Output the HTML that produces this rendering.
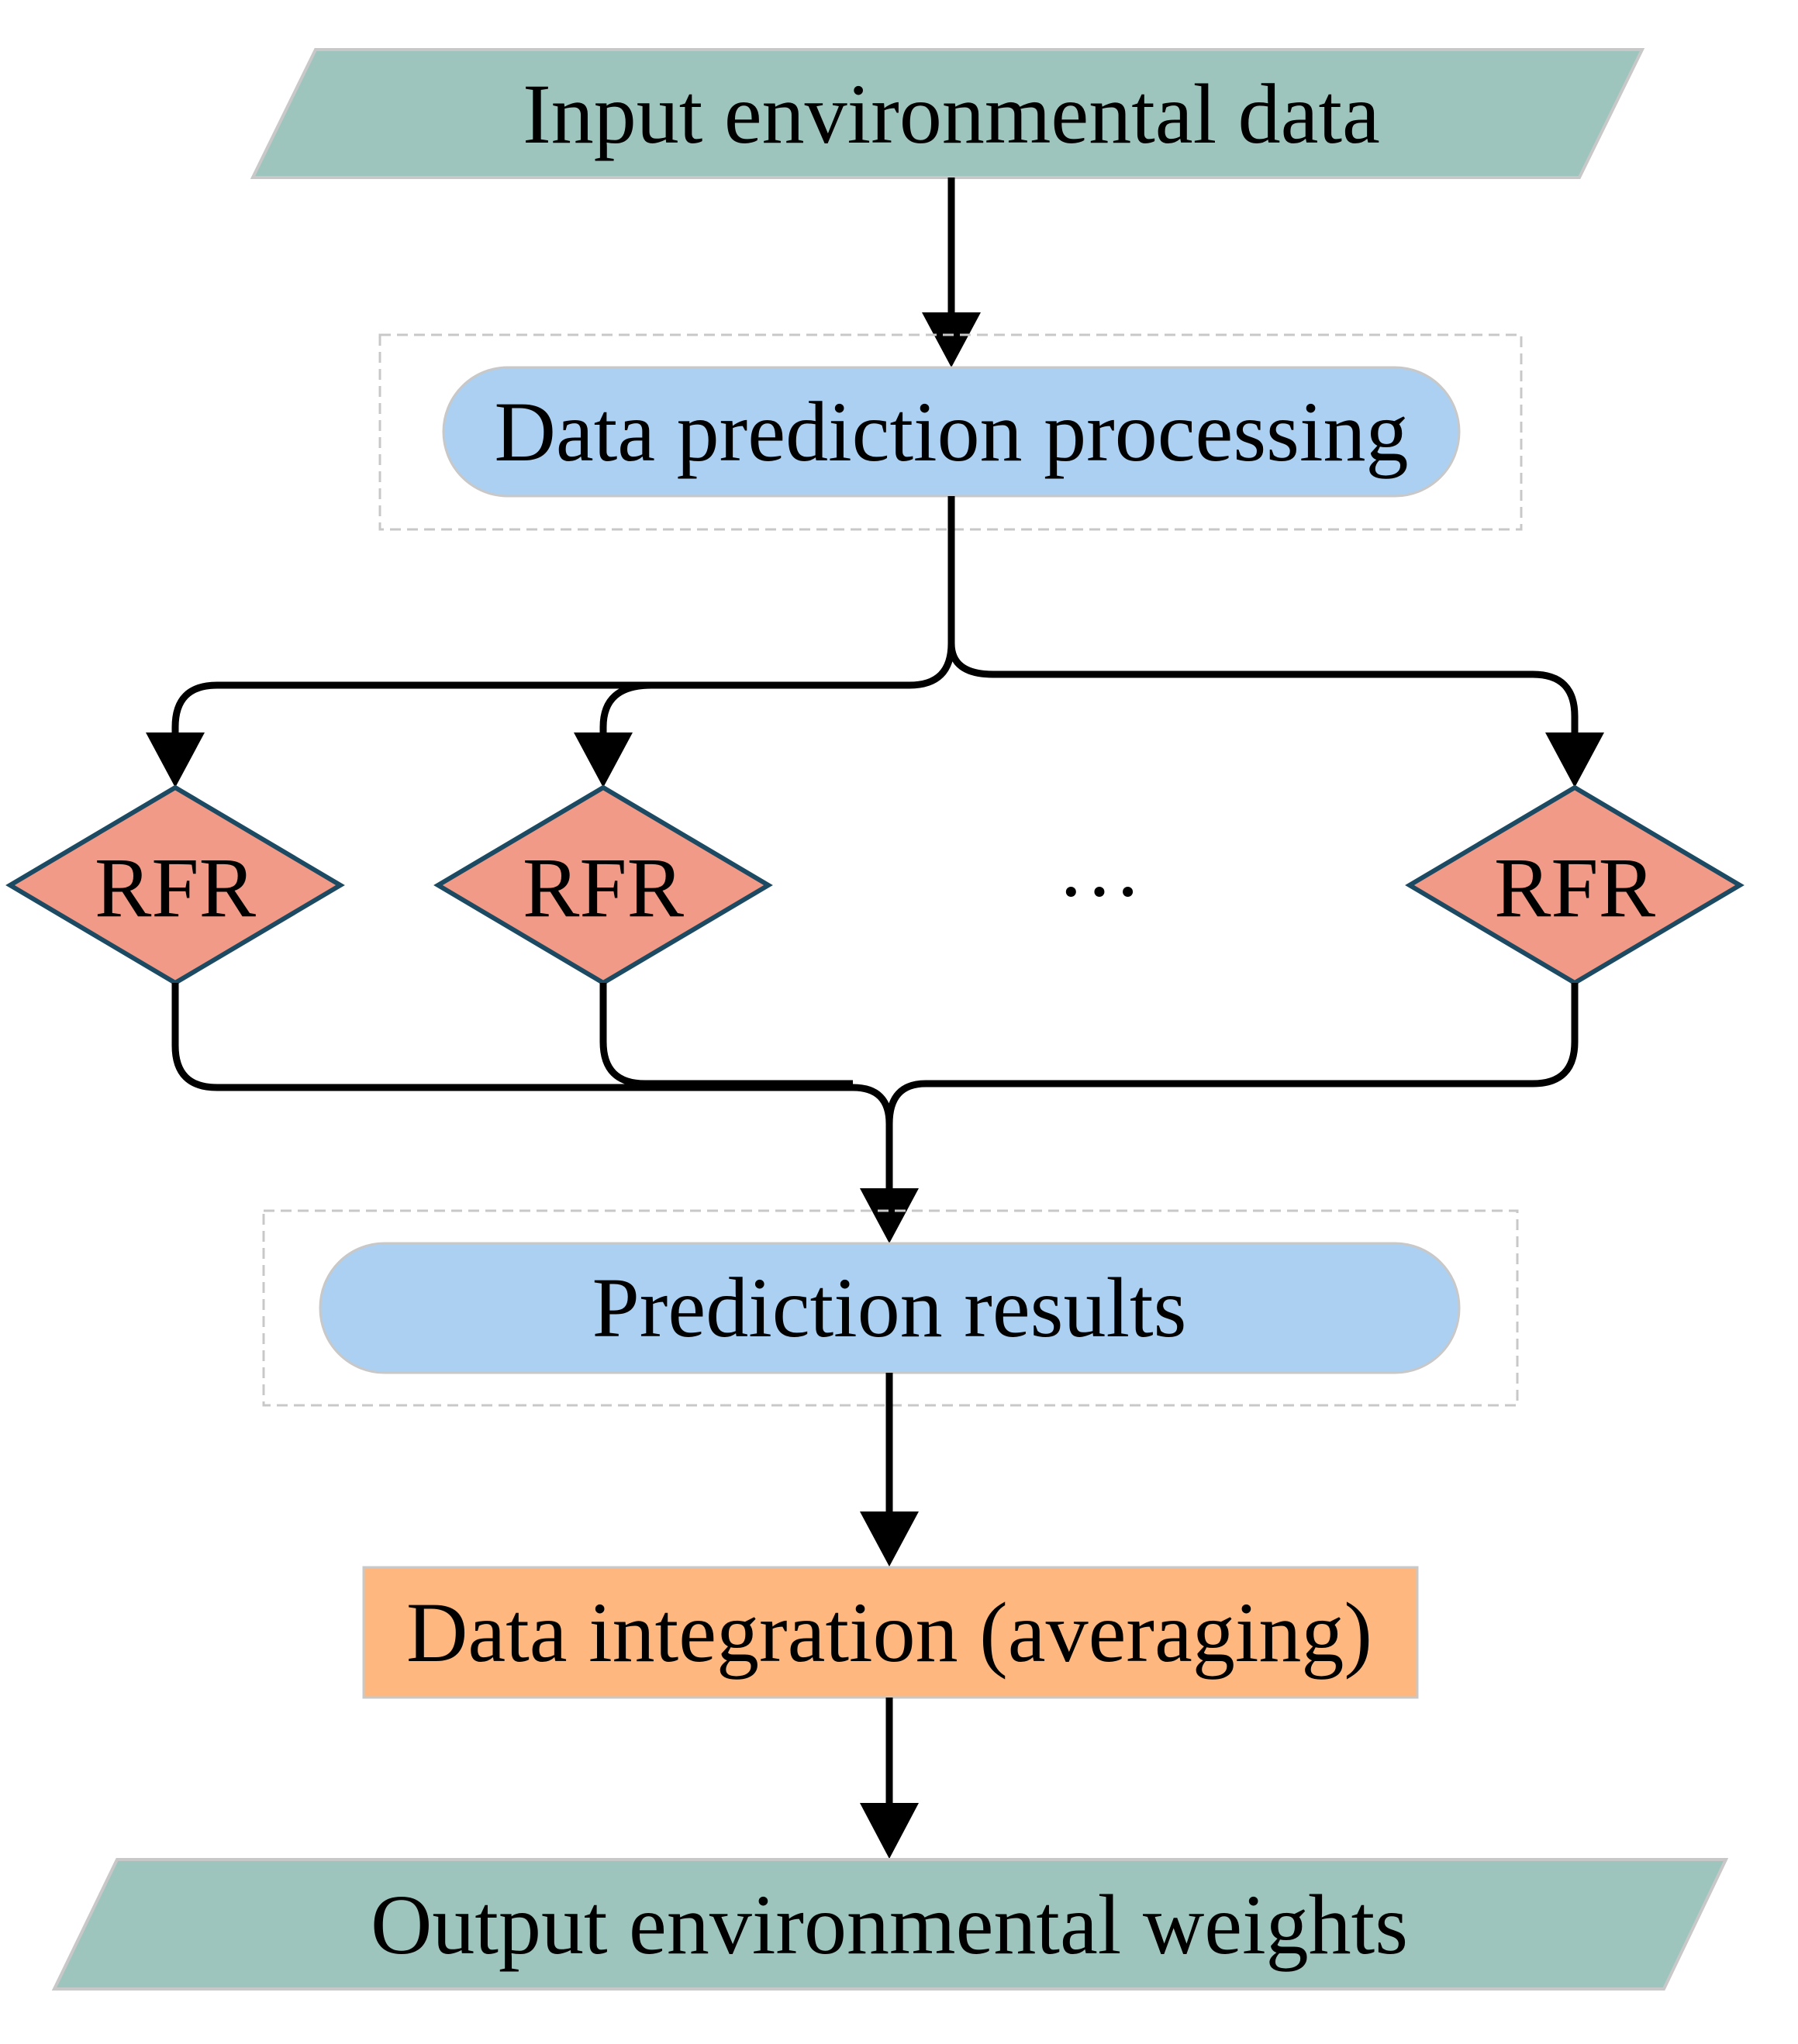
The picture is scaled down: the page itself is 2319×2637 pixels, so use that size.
<!DOCTYPE html>
<html><head><meta charset="utf-8"><style>
html,body{margin:0;padding:0;background:#fff}
svg{display:block}
text{font-family:"Liberation Serif",serif;fill:#000}
</style></head><body>
<svg width="2319" height="2637" viewBox="0 0 2319 2637" xmlns="http://www.w3.org/2000/svg">
<!-- top parallelogram -->
<polygon points="407,64 2118,64 2037,229 326,229" fill="#9ec5bd" stroke="#c8c8c8" stroke-width="4"/>
<text x="1227" y="147" font-size="110" text-anchor="middle" dominant-baseline="central">Input environmental data</text>

<!-- arrow 1 -->
<line x1="1227" y1="229" x2="1227" y2="420" stroke="#000" stroke-width="9"/>
<polygon points="1189,403 1265,403 1227,474" fill="#000"/>

<!-- dashed box 1 -->
<rect x="490" y="432" width="1472" height="251" fill="none" stroke="#c8c8c8" stroke-width="3" stroke-dasharray="14,8"/>
<rect x="572" y="474" width="1310" height="166" rx="83" fill="#acd0f1" stroke="#c8c8c8" stroke-width="3"/>
<text x="1227" y="557" font-size="110" text-anchor="middle" dominant-baseline="central">Data prediction processing</text>

<!-- branches -->
<g fill="none" stroke="#000" stroke-width="9" stroke-linejoin="round">
<path d="M1227,640 L1227,830 Q1227,884 1173,884 L280,884 Q226,884 226,938 L226,960"/>
<path d="M840,884 Q778,884 778,938 L778,960"/>
<path d="M1227,830 Q1227,870 1281,870 L1977,870 Q2031,870 2031,924 L2031,960"/>
</g>
<polygon points="188,945 264,945 226,1016" fill="#000"/>
<polygon points="740,945 816,945 778,1016" fill="#000"/>
<polygon points="1993,945 2069,945 2031,1016" fill="#000"/>

<!-- diamonds -->
<g fill="#f09a87" stroke="#1d4a63" stroke-width="6">
<polygon points="226,1016 439,1142 226,1268 13,1142"/>
<polygon points="778,1016 991,1142 778,1268 565,1142"/>
<polygon points="2031,1016 2244,1142 2031,1268 1818,1142"/>
</g>
<text x="226" y="1145" font-size="110" text-anchor="middle" dominant-baseline="central">RFR</text>
<text x="778" y="1145" font-size="110" text-anchor="middle" dominant-baseline="central">RFR</text>
<text x="2031" y="1145" font-size="110" text-anchor="middle" dominant-baseline="central">RFR</text>
<text x="1418" y="1150" font-size="110" text-anchor="middle" dominant-baseline="central">···</text>

<!-- merge -->
<g fill="none" stroke="#000" stroke-width="9" stroke-linejoin="round">
<path d="M226,1268 L226,1349 Q226,1403 280,1403 L1100,1403 Q1147,1403 1147,1450 L1147,1550"/>
<path d="M778,1268 L778,1344 Q778,1398 832,1398 L1100,1398"/>
<path d="M2031,1268 L2031,1344 Q2031,1398 1977,1398 L1194,1398 Q1147,1398 1147,1450"/>
</g>
<polygon points="1109,1533 1185,1533 1147,1604" fill="#000"/>

<!-- dashed box 2 -->
<rect x="340" y="1562" width="1617" height="251" fill="none" stroke="#c8c8c8" stroke-width="3" stroke-dasharray="14,8"/>
<rect x="413" y="1604" width="1469" height="167" rx="83" fill="#acd0f1" stroke="#c8c8c8" stroke-width="3"/>
<text x="1147" y="1687" font-size="110" text-anchor="middle" dominant-baseline="central">Prediction results</text>

<!-- arrow -->
<line x1="1147" y1="1771" x2="1147" y2="1960" stroke="#000" stroke-width="9"/>
<polygon points="1109,1950 1185,1950 1147,2021" fill="#000"/>

<rect x="469" y="2022" width="1359" height="168" fill="#fdb77f" stroke="#c8c8c8" stroke-width="3"/>
<text x="1147" y="2106" font-size="110" text-anchor="middle" dominant-baseline="central">Data integration (averaging)</text>

<line x1="1147" y1="2190" x2="1147" y2="2340" stroke="#000" stroke-width="9"/>
<polygon points="1109,2326 1185,2326 1147,2398" fill="#000"/>

<polygon points="151,2399 2226,2399 2146,2566 70,2566" fill="#9ec5bd" stroke="#c8c8c8" stroke-width="4"/>
<text x="1147" y="2483" font-size="110" text-anchor="middle" dominant-baseline="central">Output environmental weights</text>
</svg>
</body></html>
